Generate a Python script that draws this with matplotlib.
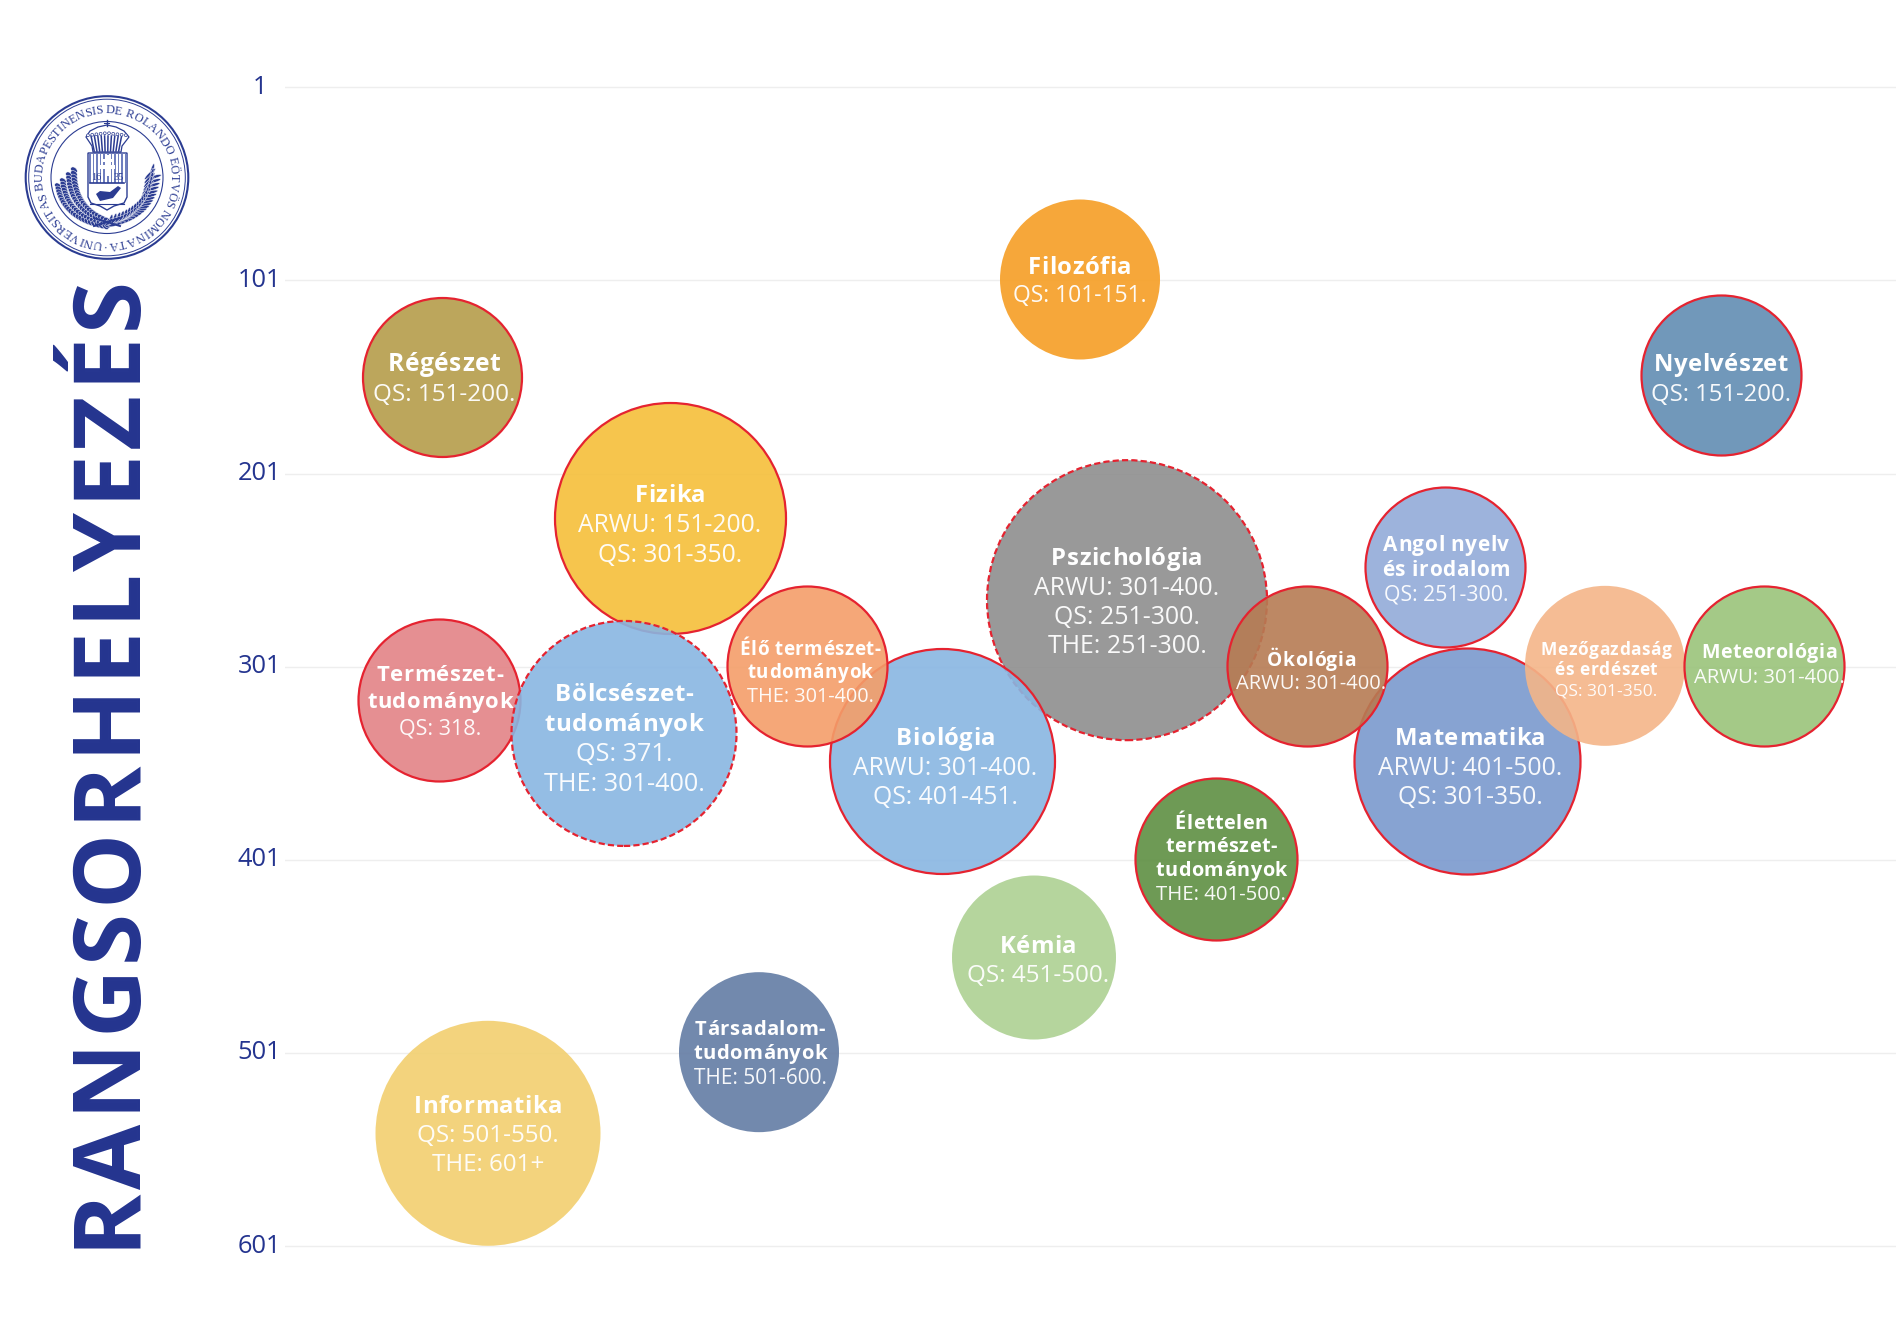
import numpy as np
import matplotlib
matplotlib.use("Agg")
import matplotlib.pyplot as plt
from matplotlib.colors import to_rgb
from matplotlib.ft2font import LoadFlags
from matplotlib.font_manager import FontProperties, findfont, get_font
from matplotlib.patches import Circle, Polygon, Rectangle, Ellipse
from matplotlib.textpath import TextPath
from matplotlib.transforms import ScaledTranslation

W, H = 1896, 1317
BLUE = "#24348f"
RED = "#e52330"
SEAL = "#2b3c92"
plt.rcParams["font.family"] = ["Open Sans", "DejaVu Sans"]

# ---- bubbles, in drawing order ----
names = [["Filozófia"], ["Régészet"], ["Nyelvészet"], ["Fizika"], ["Pszichológia"],
         ["Angol nyelv", "és irodalom"], ["Természet-", "tudományok"], ["Bölcsészet-", "tudományok"],
         ["Biológia"], ["Élő természet-", "tudományok"], ["Matematika"], ["Ökológia"],
         ["Mezőgazdaság", "és erdészet"], ["Meteorológia"], ["Élettelen", "természet-", "tudományok"],
         ["Kémia"], ["Társadalom-", "tudományok"], ["Informatika"]]
details = [["QS: 101-151."], ["QS: 151-200."], ["QS: 151-200."], ["ARWU: 151-200.", "QS: 301-350."],
           ["ARWU: 301-400.", "QS: 251-300.", "THE: 251-300."], ["QS: 251-300."], ["QS: 318."],
           ["QS: 371.", "THE: 301-400."], ["ARWU: 301-400.", "QS: 401-451."], ["THE: 301-400."],
           ["ARWU: 401-500.", "QS: 301-350."], ["ARWU: 301-400."], ["QS: 301-350."], ["ARWU: 301-400."],
           ["THE: 401-500."], ["QS: 451-500."], ["THE: 501-600."], ["QS: 501-550.", "THE: 601+"]]
x_pos = [1080, 442, 1721, 670, 1127, 1445, 439, 624, 942, 807, 1467, 1307, 1605, 1764, 1216, 1034, 759, 488]
ranks = [100.5, 151, 150, 224, 266.5, 249.5, 318, 335.5, 350, 300.5, 350, 300.5, 300.5, 300.5, 400.5, 451.5, 500.5, 542.5]
diameters = [160, 159, 160, 231, 280, 160, 162, 225, 225, 160, 226, 160, 160, 160, 162, 164, 160, 225]
colors = ["#f7a83a", "#bca75c", "#7298bb", "#f6c54e", "#999999", "#9db3dd", "#e68f92", "#94bde5",
          "#94bde5", "#f5a878", "#87a3d3", "#bd8864", "#f5bc94", "#a4c987", "#6e9a55", "#b5d69e",
          "#7389ad", "#f3d47d"]
edges = ["none", "solid", "solid", "solid", "dashed", "solid", "solid", "dashed", "solid", "solid",
         "solid", "solid", "none", "solid", "solid", "none", "none", "none"]
rank_ticks = [1, 101, 201, 301, 401, 501, 601]

# label layout: x shift, y of first line relative to centre, line step (px), font sizes (pt)
label_dx = [0, 2, 0, 0, 0, 1, 1, 0, 3.6, 3, 3.6, 4, 1, 5, 5, 4, 1, 0]
label_y0 = [-14.5, -14.5, -13, -25, -43.5, -24, -26.6, -41, -25, -18, -25, -7, -17, -14.5, -37.5, -13, -24, -29]
label_dy = [29, 30, 30, 30, 29.3, 25, 27, 30, 29.6, 23.5, 29.6, 23, 20, 24, 23.8, 29, 24, 29]
name_fs = [17.2, 17.7, 17.2, 17.2, 17.2, 15, 15.8, 17.4, 17.2, 13.6, 17.2, 13.9, 12.5, 14.1, 14.3, 17.2, 14.6, 17.2]
det_fs = [16.5, 17.5, 17.1, 17.7, 17.9, 15.3, 15.5, 18.2, 17.8, 14.3, 17.8, 14.5, 12.5, 14.6, 14.7, 17.5, 15, 17.4]
NAME_SPACING = 0.5  # px between bold letters


def glyphs(text, fs, weight):
    font = get_font(findfont(FontProperties(family="Open Sans", weight=weight)))
    font.set_size(fs, 100)
    return [font.load_char(ord(c), flags=LoadFlags.NO_HINTING) for c in text]


def advances(text, fs, weight):
    # pixel advance of every letter at dpi 100
    return [g.linearHoriAdvance / 65536 for g in glyphs(text, fs, weight)]


# ---- main chart, x axis runs in reference pixels, y axis in ranks ----
fig = plt.figure(figsize=(W / 100, H / 100), dpi=100, facecolor="white")
ax = fig.add_axes([285 / W, 0, 1 - 285 / W, 1])
y_a, y_b = 87.3, 1246.3  # pixel rows of rank 1 and rank 601
px_per_rank = (y_b - y_a) / 600
ax.set_xlim(285, W)
ax.set_ylim(601 + (H - y_b) / px_per_rank, 1 - y_a / px_per_rank)
for s in ax.spines.values():
    s.set_visible(False)
ax.set_xticks([])
ax.set_yticks(rank_ticks)
ax.set_yticklabels([str(r) for r in rank_ticks], color=BLUE, fontsize=18.3, ha="center", va="center")
ax.tick_params(axis="y", length=0, pad=18.3)
ax.grid(axis="y", color="#eeeeee", lw=1)
ax.set_axisbelow(True)
lift = ScaledTranslation(0, 0.002, fig.dpi_scale_trans)
for lab in ax.get_yticklabels():
    lab.set_transform(lab.get_transform() + lift)

ALPHA = 0.9
for i in range(len(names)):
    rgb = (np.array(to_rgb(colors[i])) - (1 - ALPHA)) / ALPHA
    face = tuple(np.clip(rgb, 0, 1)) + (ALPHA,)
    size = (diameters[i] * 0.72) ** 2
    if edges[i] == "none":
        ax.scatter(x_pos[i], ranks[i], s=size, c=[face], edgecolors="none", zorder=3 + i * 0.01)
    else:
        ls = (0, (2.8, 1.4)) if edges[i] == "dashed" else "solid"
        ax.scatter(x_pos[i], ranks[i], s=size, c=[face], edgecolors=RED, linewidths=1.6,
                   linestyles=ls, zorder=3 + i * 0.01)

for i in range(len(names)):
    y_px = label_y0[i]
    for line in names[i]:
        adv = advances(line, name_fs[i], "bold")
        px = label_dx[i] - (sum(adv) + NAME_SPACING * (len(line) - 1)) / 2
        base = y_px + 0.357 * name_fs[i] / 0.72
        for ch, a in zip(line, adv):
            ax.annotate(ch, (x_pos[i], ranks[i]), xytext=(px * 0.72, -base * 0.72), textcoords="offset points",
                        ha="left", va="baseline", color="white", fontsize=name_fs[i], fontweight="bold", zorder=6)
            px += a + NAME_SPACING
        y_px += label_dy[i]
    for line in details[i]:
        base = y_px + 0.357 * det_fs[i] / 0.72
        ax.annotate(line, (x_pos[i], ranks[i]), xytext=(label_dx[i] * 0.72, -base * 0.72),
                    textcoords="offset points", ha="center", va="baseline", color="white", alpha=0.95,
                    fontsize=det_fs[i], zorder=6)
        y_px += label_dy[i]

# ---- overlay in pixel coordinates: vertical title and the seal ----
ov = fig.add_axes([0, 0, 1, 1], facecolor="none")
ov.set_xlim(0, W)
ov.set_ylim(H, 0)
ov.axis("off")

title = "RANGSORHELYEZÉS"
title_fs = 68
title_glyphs = glyphs(title, title_fs, "bold")
py = 1247.7 + title_glyphs[0].horiBearingX / 64
for ch, g, nxt in zip(title, title_glyphs, title[1:] + " "):
    # Agg puts the left bearing on screen x even for rotated text, so take it back out
    lsb = g.horiBearingX / 64
    ov.text(141 - lsb, py - lsb, ch, rotation=90, rotation_mode="anchor", ha="left", va="baseline",
            color=BLUE, fontsize=title_fs, fontweight="bold")
    py -= g.linearHoriAdvance / 65536 + 4.6
    if ch + nxt == "LY":  # kerning pair, single letters do not get it
        py += 2

cx, cy = 107, 177.5
for r, lw in [(81.3, 1.5), (78.3, 0.7), (56, 0.8)]:
    ov.add_patch(Circle((cx, cy), r, fc="none", ec=SEAL, lw=lw))

ring = "UNIVERSITAS BUDAPESTINENSIS DE ROLANDO EÖTVÖS NOMINATA ·"
fp = FontProperties(family="Liberation Serif")
adv = [3.6 if c == " " else TextPath((0, 0), c, size=12, prop=fp).get_extents().width + 1.0 for c in ring]
total = sum(adv)
ang = 184.0  # clockwise from the top of the seal
for c, a in zip(ring, adv):
    mid = ang + (a / 2) / total * 360
    t = np.deg2rad(mid)
    ov.text(cx + 67 * np.sin(t), cy - 67 * np.cos(t), c, rotation=-mid, rotation_mode="anchor",
            ha="center", va="center", fontsize=8.8, color=SEAL, family="Liberation Serif")
    ang += a / total * 360

# shield
outline = [(88, 153), (127, 153), (127, 197), (124, 203), (114, 206), (107, 210), (100, 206), (91, 203), (88, 197)]
ov.add_patch(Polygon(outline, fc="white", ec=SEAL, lw=1, zorder=2))
for sx in np.arange(89, 126, 3.6):
    ov.add_patch(Rectangle((sx, 154), 1.7, 29, fc="#6f7fbe", ec="none", zorder=2.1))
ov.add_patch(Rectangle((104.8, 155), 4.4, 21, fc="white", ec="none", zorder=2.2))
ov.add_patch(Rectangle((101, 159), 12, 3, fc="white", ec="none", zorder=2.2))
ov.add_patch(Rectangle((99, 165), 16, 3.5, fc="white", ec="none", zorder=2.2))
ov.text(96.5, 177, "16", fontsize=7.5, color=SEAL, ha="center", va="center", family="Liberation Serif", zorder=2.3)
ov.text(119, 177, "35", fontsize=7.5, color=SEAL, ha="center", va="center", family="Liberation Serif", zorder=2.3)
ov.add_patch(Polygon([(96, 194), (100, 191), (110, 192), (118, 186), (121, 188), (113, 198), (100, 201)],
                     fc=SEAL, ec="none", zorder=2.3))
ov.plot([90, 124], [183, 183], color=SEAL, lw=1.2, zorder=2.3)
ov.plot([90, 124], [204, 204], color=SEAL, lw=0.8, zorder=2.3)
# crown
ov.add_patch(Polygon([(86, 137), (90, 131), (98, 127), (107, 125), (116, 127), (124, 131), (129, 137),
                      (122, 146), (121, 152), (93, 152), (92, 146)], fc="white", ec=SEAL, lw=0.9, zorder=2))
for sx in np.arange(91, 125, 3.4):
    ov.plot([sx, 107 + (sx - 107) * 0.8], [136, 151], color=SEAL, lw=1.1, zorder=2.1)
for sx in np.arange(88, 128, 4.2):
    ov.add_patch(Circle((sx, 133 + abs(sx - 107) * 0.12), 1.4, fc="white", ec=SEAL, lw=0.5, zorder=2.2))
ov.plot([107, 107], [120, 126], color=SEAL, lw=1)
ov.plot([104.5, 109.5], [122.5, 122.5], color=SEAL, lw=0.8)
# wreath: oak on the left, palm on the right
for t in np.linspace(0, 1, 22):
    lx = (1 - t) ** 2 * 66 + 2 * t * (1 - t) * 68 + t ** 2 * 108
    ly = (1 - t) ** 2 * 178 + 2 * t * (1 - t) * 214 + t ** 2 * 224
    for off in (-8, -3, 3, 8):
        spread = off * (1 - 0.7 * t)
        ov.add_patch(Ellipse((lx + spread, ly - spread), 7.5, 5, angle=40, fc=SEAL, ec="white", lw=0.35))
for t in np.linspace(0, 1, 20):
    lx = (1 - t) ** 2 * 149 + 2 * t * (1 - t) * 146 + t ** 2 * 108
    ly = (1 - t) ** 2 * 176 + 2 * t * (1 - t) * 216 + t ** 2 * 224
    for a, dx, dy in ((-75, 3, -5), (-15, 5, 1), (-45, 1, -2)):
        ov.add_patch(Ellipse((lx + dx, ly + dy), 15 - 6 * t, 3, angle=a, fc=SEAL, ec="white", lw=0.3))
ov.plot([94, 120], [218, 226], color=SEAL, lw=1.4)
ov.plot([120, 94], [218, 226], color=SEAL, lw=1.4)

fig.savefig("out.png", dpi=100)
